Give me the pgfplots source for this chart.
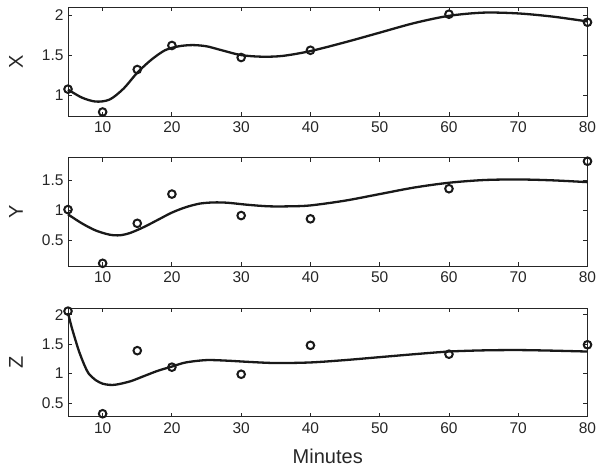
\documentclass[border=0pt]{standalone}
\usepackage{pgfplots}
\pgfplotsset{compat=1.18}
\usepackage{fontspec}
\setmainfont{Liberation Sans}
\begin{document}
\begin{tikzpicture}
\useasboundingbox (0bp,0bp) rectangle (602bp,471bp);
\pgfplotsset{
  myax/.style={
    anchor=south west,
    scale only axis,
    width=519.5bp, height=108.5bp,
    xmin=5, xmax=80,
    xtick={10,20,...,80},
    axis line style={line width=0.9bp, black!85},
    tick style={line width=0.8bp, black!85},
    major tick length=4bp,
    tick align=inside,
    xtick pos=both, ytick pos=both,
    /pgf/number format/assume math mode=true,
    tick label style={font=\fontsize{15.5bp}{18bp}\selectfont, text=black!85},
    xticklabel style={yshift=-2bp},
    yticklabel style={xshift=-1bp},
    ylabel style={font=\fontsize{20bp}{24bp}\selectfont, at={(axis description cs:-0.1,0.5)}, anchor=center, rotate=0, text=black!85},
    clip=false,
  },
  curve/.style={no marks, smooth, tension=0.5, line width=2.3bp, black!90},
  pts/.style={only marks, mark=o, mark size=3.8bp, line width=2bp, black!90, mark options={solid, line width=2bp}},
}
% X panel
\begin{axis}[myax, at={(68bp,355bp)}, ymin=0.74, ymax=2.094, ytick={1,1.5,2}, yticklabels={1,1.5,2}, ylabel={X}]
\addplot[curve] coordinates {(5,1.07)(7,0.97)(9,0.92)(11,0.945)(13,1.08)(15,1.28)(17,1.44)(19,1.56)(21,1.61)(23,1.625)(25,1.61)(27,1.565)(30,1.50)(33,1.48)(36,1.49)(40,1.55)(45,1.66)(50,1.78)(55,1.90)(60,1.99)(65,2.03)(70,2.02)(75,1.98)(80,1.92)};
\addplot[pts] coordinates {(5,1.075)(10,0.79)(15,1.32)(20,1.62)(30,1.47)(40,1.56)(60,2.01)(80,1.91)};
\end{axis}
% Y panel
\begin{axis}[myax, at={(68bp,204.7bp)}, ymin=0.06, ymax=1.878, ytick={0.5,1,1.5}, yticklabels={0.5,1,1.5}, ylabel={Y}]
\addplot[curve] coordinates {(5,0.93)(7,0.78)(9,0.66)(11,0.59)(12.5,0.58)(14,0.62)(16,0.72)(18,0.84)(20,0.96)(22,1.05)(24,1.11)(26,1.13)(28,1.125)(31,1.09)(34,1.065)(37,1.065)(40,1.08)(45,1.16)(50,1.27)(55,1.38)(60,1.46)(65,1.505)(70,1.515)(75,1.50)(80,1.47)};
\addplot[pts] coordinates {(5,1.01)(10,0.11)(15,0.78)(20,1.27)(30,0.91)(40,0.855)(60,1.36)(80,1.82)};
\end{axis}
% Z panel
\begin{axis}[myax, at={(68bp,54.3bp)}, ymin=0.27, ymax=2.11, ytick={0.5,1,1.5,2}, yticklabels={0.5,1,1.5,2}, ylabel={Z},
  xlabel={Minutes}, xlabel style={font=\fontsize{20bp}{24bp}\selectfont, text=black!85, yshift=-9bp}]
\addplot[curve] coordinates {(5,2.03)(5.5,1.80)(6,1.60)(6.5,1.41)(7,1.25)(7.5,1.11)(8,1.00)(9,0.89)(10,0.83)(11,0.81)(12,0.815)(14,0.87)(16,0.96)(18,1.05)(20,1.12)(22,1.19)(25,1.23)(28,1.22)(31,1.20)(35,1.18)(40,1.19)(45,1.23)(50,1.28)(55,1.33)(60,1.375)(65,1.395)(70,1.40)(75,1.39)(80,1.375)};
\addplot[pts] coordinates {(5,2.06)(10,0.32)(15,1.39)(20,1.11)(30,0.99)(40,1.48)(60,1.33)(80,1.49)};
\end{axis}
\end{tikzpicture}
\end{document}
